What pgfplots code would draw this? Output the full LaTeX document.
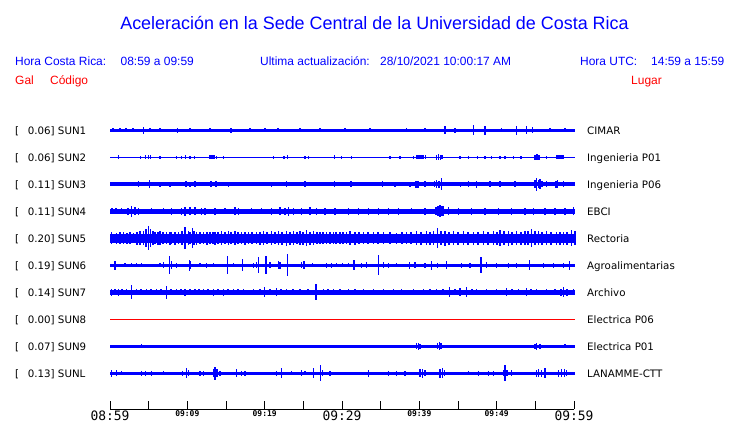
\documentclass[border=0pt]{standalone}
\usepackage{pgfplots}
\pgfplotsset{compat=1.18}
\usepackage{pgfplotstable}
\usepackage{fontspec}
\setmainfont{Liberation Sans}
\newfontfamily\dejavu{DejaVu Sans}
\newfontfamily\dejamono{DejaVu Sans Mono}
\definecolor{tblue}{RGB}{0,0,255}
\definecolor{tred}{RGB}{255,0,0}

% spike tables: x position (px), half amplitude (px)
\pgfplotstableread{
x a
113 1.8
120 1.8
126 1.8
133 1.8
143.3 3.5
150 2
160 1.8
177.7 2.5
190 2
210 1.8
231 2.5
250 1.8
265 1.8
278 2
300 1.8
320 1.8
345 2
370 1.8
406.7 2
425 1.8
445 4
455 2.5
473.3 5
485 4.5
501.7 2
516.7 4.5
526.7 4
532.7 3
550 2
565 1.8
}\sA
\pgfplotstableread{
x a
118.3 2
140.7 1.5
145.7 2
148.3 2
150.3 2
160 1.5
176.7 1.5
181.7 1.5
185.7 2
190 1.5
194.3 1.5
210 2
212 2
214 2
216.7 1.5
223.3 1.5
273.3 1.5
284 1.5
287.3 2
305 1.5
308.3 1.5
334.3 2
341.7 1.5
351.7 1.5
390 1.5
400 1.5
413.3 1.5
417 2
419 2
421 2
423 2
425.5 2
436.5 2.5
438.3 3
440.3 2.5
442 2
460 1.5
468.3 1.5
477.7 1.5
485 1.5
491.7 1.5
500 1.5
505 1.5
513.3 1.5
521 1.5
535 2.5
537 3
539 2.5
546.7 1.5
557 2
559 2
561 2
563 2
}\sB
\pgfplotstableread{
x a
138.3 3
149.3 4
160 2.5
170 2.5
186 3
190 2.5
195 3
211 3
216 3
228.3 2.5
271.7 2.5
286.7 3
305 3
334.3 3
351 3
382.7 3
395 2.5
410 2.5
416 3.5
418 3.5
425 3
434.7 3
436.7 4
439 3.5
441.7 6
460.7 2.5
468.3 3
476.7 3.5
490 3
500 3
515 3
535 4
536.7 6.5
538.5 4
540 5
542 3
546.7 3
556 3.5
557.7 4
563.3 3
}\sC
\pgfplotstableread{
x a
112 3
116 3
121.7 3
128 3.5
131.7 5.5
135 4
138.3 3.5
151.7 3
163.3 3
171.7 3.5
181.7 3.5
185 4.5
190 4
195 4
201.7 3.5
205 3.5
215 3.5
225 3
235 4
238.3 3.5
251.7 3
261.7 3
271.7 3.5
280 4
285 3.5
288.3 4.5
293.3 3.5
301.7 3.5
310 4
316.7 3.5
325 3.5
335 3.5
348.3 3.5
358.3 3.5
368.3 3.5
378.3 3.5
388.3 3.5
398.3 3.5
411.7 3
425 3.5
436 4
438 5
440 6
442 5
443.3 5
448.3 4
458.3 3.5
471.7 3.5
485 3.5
498.3 3.5
511.7 3.5
525 3.5
533.3 3.5
545 3.5
555 3.5
565 3.5
573.3 4
}\sD
\pgfplotstableread{
x a
111.7 6
116.7 5.5
120 6
123.3 6
127 5.5
130 6
133.3 5
137 6.5
140 7
143.3 7
146 9
148.3 12
150.7 9
153 7
155 6
158 6.5
160 7
163 6
166.7 6
170 6.5
171.7 6
175 6.5
178.3 6
182 7
185 11
188.3 7
190 6
192.3 10
194 7
196.7 6.5
200 6
203.3 6
207 6.5
210 6
213 6
215 6.5
218 6
221.7 7
225 6
228.3 7
231 6
235 7
238 6
241.7 6
245 6.5
248.3 6
252 6
256.7 6
260 6.5
263.3 7
267 6
271.7 7
275 6
278.3 7
282 6.5
286.7 7.5
290 6.5
293.3 7
297 6
300 7
303 6.5
306.7 8
310 6.5
313.3 7
317 6
320 6
323 6
326.7 6
330 6
333.3 6
336 6
340 6
343 6
346.7 6
350 7
355 6.5
359 6
363.3 6
368 6
373.3 6
378 6
383.3 6
390 6
396.7 5.5
402 6
406.7 6
411 6
416.7 7
421 6.5
426.7 7
430 6.5
433.3 7
437.7 10
441 7
445 7.5
449 6.5
453.3 7
458 6.5
463.3 7
468 6.5
473.3 6.5
478 6.5
483.3 7
488 6.5
493.3 7
497 6.5
500 8
504 7
508.3 7.5
512 6.5
516.7 7
521 6.5
525 7
528 7
531.7 9
535 7
538.3 7
542 6.5
546.7 7
551 6.5
556.7 6.5
560 6.5
563.3 6.5
567 6.5
571.7 8
575 7
}\sE
\pgfplotstableread{
x a
115 4.5
125 2
131.7 2
136.7 2
141.7 2
160 2
163.3 3
169.3 9
171.7 4
176.7 2.5
189.3 5.5
190.7 4
200 2
206.7 2.5
213.3 2
227.3 9
233.3 2
242.7 6
253.3 2.5
256.7 3
258.3 8
266 9
270 3
278.3 4
280 3.5
287.3 11
301.7 3
304 4
312.3 2
326.7 2.5
331.7 2.5
336.7 2
342.7 2
348.3 2
354 5
361.7 2.5
366.7 3
378.3 10
383.3 3
388.3 2.5
396.7 2
409.3 3.5
415 3
425 2.5
431.7 4.5
437.3 2.5
446.7 4
461.7 2.5
470 2.5
481 8
486.7 3
496.7 2.5
508.3 2.5
516.7 2.5
529.3 5
543.3 2.5
553.3 2.5
563.3 2.5
569.3 4.5
}\sF
\pgfplotstableread{
x a
111.7 3.5
115 3
118.3 3.5
122 3
126.7 3
131.7 7
136.7 3
141 3
146.7 3
151 3
156.7 3
161 3
166.7 6.5
171 3
176.7 3
181 3
185 3.5
190 3
195 3
199 3
203.3 3
208 3
213.3 3.5
218 3
223.3 3.5
228 3
233.3 3
238 3
243.3 3
253.3 3
260 3
264.3 5
270 3
276.7 4
281 3
286.7 3
293 3
300 3
308 3
316 8
323.3 3
328 3
333.3 3
340 3
348.3 3
355 3
363.3 3
373.3 3
383.3 3
393.3 3
401.7 3
413.3 3
423.3 3
430 3
436.7 3
443 3
449.3 5
455 3
460 4
466.7 5
472 3
476.7 3
486.7 3
496.7 3
506.7 4
512 3
518.3 3
526.7 4
531 3
536.7 3
546.7 3
555 3
561 3.5
563.3 5
567 3.5
573.3 3
}\sG
\pgfplotstableread{
x a
141.7 2
180 1.8
210 1.8
300 1.8
350 1.8
380 1.8
400 1.8
416.5 3
418.3 3.5
420 2.5
437.5 3
439.3 4
441 3
470 1.8
500 1.8
535 2.5
536.7 3.5
540 2.5
565 2
}\sI
\pgfplotstableread{
x a
111.7 3.5
116.7 3
121.7 2
141.7 2.5
145.7 2.5
151.7 2.5
163.3 2
182.3 2.5
186.7 5
188.5 3
200 2.5
203.3 2.5
213.5 4
215 6.5
217 4
220 2.5
236.7 4
241.7 2.5
245 2.5
276.7 2.5
281.7 5
291.7 2
301.7 3
305 2
313.3 5
320.7 8
322.5 3
330 2.5
368.3 3.5
388.3 2.5
396.7 2.5
405 2.5
420 4
422.3 4.5
425 3
440 4.5
442.7 5
444.5 3
468.3 2
478.3 2.5
488.3 2.5
493.3 2.5
503.3 3
505 8
507 3
511.7 3
536.5 3.5
538.3 4
541.7 3.5
545 5
558.3 3.5
561.7 4
564.3 4
566.7 3
}\sL

\begin{document}
\begin{tikzpicture}[x=1bp,y=1bp]
\useasboundingbox (0,0) rectangle (740,423);
\begin{axis}[
  at={(110,14)}, anchor=south west,
  scale only axis, width=464bp, height=299bp,
  xmin=110, xmax=574, ymin=-409, ymax=-110,
  axis x line*=bottom, axis y line=none,
  clip=false,
  xtick={110,187.333,264.667,342,419.333,496.667,574},
  xticklabels={{\fontsize{13}{13}\dejamono 08:59},{\fontsize{8}{8}\dejamono\bfseries 09:09},{\fontsize{8}{8}\dejamono\bfseries 09:19},{\fontsize{13}{13}\dejamono 09:29},{\fontsize{8}{8}\dejamono\bfseries 09:39},{\fontsize{8}{8}\dejamono\bfseries 09:49},{\fontsize{13}{13}\dejamono 09:59}},
  minor xtick={148.667,226,303.333,380.667,458,535.333},
  tick align=inside,
  major tick length=8bp, minor tick length=8bp,
  every tick/.style={black, line width=0.8bp},
  every minor tick/.style={black, line width=0.8bp},
  axis line style={black, line width=0.8bp},
  xticklabel style={anchor=north, inner sep=0pt, yshift=-1.5bp},
  ytick=\empty,
  spk/.style={draw=none, mark=none, error bars/.cd, y dir=both, y explicit, error mark=none, error bar style={draw=tblue, solid, line width=1.1bp}},
]
% base bands
\addplot[tblue, line width=3bp] coordinates {(110,-130.3) (575,-130.3)};
\addplot[tblue, line width=1bp] coordinates {(110,-157.3) (575,-157.3)};
\addplot[tblue, line width=3.8bp] coordinates {(110,-184.3) (575,-184.3)};
\addplot[tblue, line width=5bp] coordinates {(110,-211.3) (575,-211.3)};
\addplot[tblue, line width=9bp] coordinates {(110,-238.3) (575,-238.3)};
\addplot[tblue, line width=3.3bp] coordinates {(110,-265.3) (575,-265.3)};
\addplot[tblue, line width=4.8bp] coordinates {(110,-292.3) (575,-292.3)};
\addplot[tred, line width=0.9bp] coordinates {(110,-319.3) (575,-319.3)};
\addplot[tblue, line width=2.5bp] coordinates {(110,-346.3) (575,-346.3)};
\addplot[tblue, line width=3.5bp] coordinates {(110,-373.3) (575,-373.3)};
% spikes
\addplot[spk] table[x=x, y expr=-130.3, y error=a] {\sA};
\addplot[spk] table[x=x, y expr=-157.3, y error=a] {\sB};
\addplot[spk] table[x=x, y expr=-184.3, y error=a] {\sC};
\addplot[spk] table[x=x, y expr=-211.3, y error=a] {\sD};
\addplot[spk] table[x=x, y expr=-238.3, y error=a] {\sE};
\addplot[spk] table[x=x, y expr=-265.3, y error=a] {\sF};
\addplot[spk] table[x=x, y expr=-292.3, y error=a] {\sG};
\addplot[spk] table[x=x, y expr=-346.3, y error=a] {\sI};
\addplot[spk] table[x=x, y expr=-373.3, y error=a] {\sL};
\end{axis}
% title and header
\node[anchor=base, text=tblue, font=\fontsize{18}{18}\selectfont, inner sep=0pt] at (374.5,393.7) {Aceleración en la Sede Central de la Universidad de Costa Rica};
\begin{scope}[every node/.style={anchor=base west, inner sep=0pt, text=tblue, font=\fontsize{12}{12}\selectfont}]
\node at (15,358) {Hora Costa Rica:};
\node at (120.5,358) {08:59 a 09:59};
\node at (260,358) {Ultima actualización:};
\node at (380,358) {28/10/2021 10:00:17 AM};
\node at (580,358) {Hora UTC:};
\node at (651,358) {14:59 a 15:59};
\node[text=tred] at (15,338.7) {Gal};
\node[text=tred] at (50,338.7) {Código};
\node[text=tred] at (631,338.7) {Lugar};
\end{scope}
% row labels
\begin{scope}[every node/.style={anchor=base west, inner sep=0pt, text=black, font=\fontsize{10.3}{10.3}\dejavu}]
\foreach \v/\c/\l [count=\i from 0] in {0.06/SUN1/CIMAR, 0.06/SUN2/Ingenieria P01, 0.11/SUN3/Ingenieria P06, 0.11/SUN4/EBCI, 0.20/SUN5/Rectoria, 0.19/SUN6/Agroalimentarias, 0.14/SUN7/Archivo, 0.00/SUN8/Electrica P06, 0.07/SUN9/Electrica P01, 0.13/SUNL/LANAMME-CTT}{
  \pgfmathsetmacro{\yy}{423-134-27*\i}
  \node at (15,\yy) {[};
  \node at (27.7,\yy) {\v] \c};
  \node at (587,\yy) {\l};
}
\end{scope}
\end{tikzpicture}
\end{document}
